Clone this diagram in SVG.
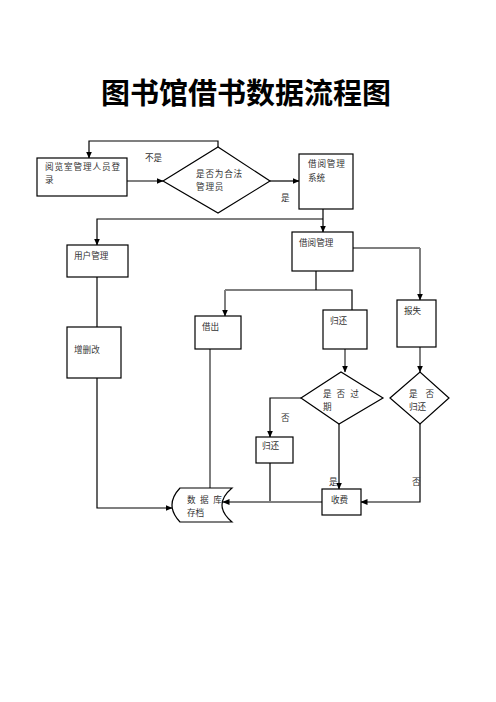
<svg xmlns="http://www.w3.org/2000/svg" width="496" height="702" viewBox="0 0 496 702">
<style>
.box{fill:#fff;stroke:#000;stroke-width:1.2}
.t{font-family:"Noto Sans CJK SC","Noto Sans",sans-serif;font-size:8.6px;fill:#333}
.ln{fill:none;stroke:#000;stroke-width:1.2}
.gl{fill:none;stroke:#7f7f7f;stroke-width:2}
.title{font-family:"Noto Sans CJK SC","Noto Sans",sans-serif;font-size:29px;font-weight:700;fill:#000}
</style>
<defs>
<marker id="ar" markerUnits="userSpaceOnUse" markerWidth="7" markerHeight="7" viewBox="0 0 7 7" refX="6.5" refY="3.5" orient="auto">
<path d="M0,0.5 L7,3.5 L0,6.5 Z" fill="#000"/>
</marker>
</defs>
<rect width="496" height="702" fill="#fff"/>
<text class="title" x="246" y="104" text-anchor="middle">图书馆借书数据流程图</text>

<g id="connectors">
<path class="ln" d="M127,181 H163" marker-end="url(#ar)"/>
<path class="ln" d="M270,181 H299" marker-end="url(#ar)"/>
<path class="ln" d="M218,147 V141 H89 V158" marker-end="url(#ar)"/>
<path class="ln" d="M323,209 V232" marker-end="url(#ar)"/>
<path class="ln" d="M323,219 H97 V245" marker-end="url(#ar)"/>
<path class="ln" d="M97,277 V327"/>
<path class="ln" d="M97,378 V508 H172" marker-end="url(#ar)"/>
<path class="ln" d="M353,248 H420"/>
<path class="gl" d="M420,248 V300" marker-end="url(#ar)"/>
<path class="ln" d="M316,271 V290"/>
<path class="ln" d="M225,290 H352 V310"/>
<path class="gl" d="M225,290 V316" marker-end="url(#ar)"/>
<path class="gl" d="M210,349 V488"/>
<path class="gl" d="M345,349 V372" marker-end="url(#ar)"/>
<path class="gl" d="M420,347 V372" marker-end="url(#ar)"/>
<path class="ln" d="M301,398 H270 V437" marker-end="url(#ar)"/>
<path class="ln" d="M270,463 V502"/>
<path class="ln" d="M339,424 V489" marker-end="url(#ar)"/>
<path class="ln" d="M420,424 V502 H361" marker-end="url(#ar)"/>
<path class="gl" d="M322,502 H223" marker-end="url(#ar)"/>
<text class="t" x="145" y="160.5">不是</text>
<text class="t" x="281" y="200.5">是</text>
<text class="t" x="281" y="420.5">否</text>
<text class="t" x="329" y="484.5">是</text>
<text class="t" x="412" y="484.5">否</text>
</g>

<g id="login">
<rect class="box" x="37" y="158" width="90" height="38"/>
<text class="t" x="45" y="169.5" letter-spacing="0.9">阅览室管理人员登</text>
<text class="t" x="45" y="182.5">录</text>
</g>
<g id="check-admin">
<polygon class="box" points="163,181 218,147 270,181 218,213"/>
<text class="t" x="196" y="176.5" letter-spacing="0.8">是否为合法</text>
<text class="t" x="196" y="189.5" letter-spacing="0.8">管理员</text>
</g>
<g id="borrow-system">
<rect class="box" x="299" y="154" width="54" height="55"/>
<text class="t" x="308" y="167" letter-spacing="0.8">借阅管理</text>
<text class="t" x="308" y="180.5">系统</text>
</g>
<g id="user-mgmt">
<rect class="box" x="67" y="245" width="61" height="32"/>
<text class="t" x="74" y="258.5">用户管理</text>
</g>
<g id="borrow-mgmt">
<rect class="box" x="292" y="232" width="61" height="39"/>
<text class="t" x="299" y="245.5">借阅管理</text>
</g>
<g id="report-loss">
<rect class="box" x="397" y="300" width="39" height="47"/>
<text class="t" x="404" y="313.5">报失</text>
</g>
<g id="lend">
<rect class="box" x="195" y="316" width="46" height="33"/>
<text class="t" x="202" y="330">借出</text>
</g>
<g id="return">
<rect class="box" x="323" y="310" width="44" height="39"/>
<text class="t" x="330" y="323.5">归还</text>
</g>
<g id="edit">
<rect class="box" x="67" y="327" width="54" height="51"/>
<text class="t" x="74" y="352.5">增删改</text>
</g>
<g id="overdue">
<polygon class="box" points="301,398 341,372 383,398 339,424"/>
<text class="t" x="323" y="396.5" letter-spacing="5">是否过</text>
<text class="t" x="323" y="409.5">期</text>
</g>
<g id="returned">
<polygon class="box" points="390,398 420,372 449,398 420,424"/>
<text class="t" x="409" y="396.5" letter-spacing="8">是否</text>
<text class="t" x="409" y="409.5">归还</text>
</g>
<g id="return2">
<rect class="box" x="256" y="437" width="37" height="26"/>
<text class="t" x="262" y="448.5">归还</text>
</g>
<g id="fee">
<rect class="box" x="322" y="489" width="39" height="26"/>
<text class="t" x="331" y="502.5">收费</text>
</g>
<g id="database">
<path class="box" d="M180,488 L232,488 Q212,505 232,522 L180,522 Q164,505 180,488 Z"/>
<text class="t" x="187" y="502.5" letter-spacing="4.5">数据库</text>
<text class="t" x="187" y="515.5">存档</text>
</g>
</svg>
